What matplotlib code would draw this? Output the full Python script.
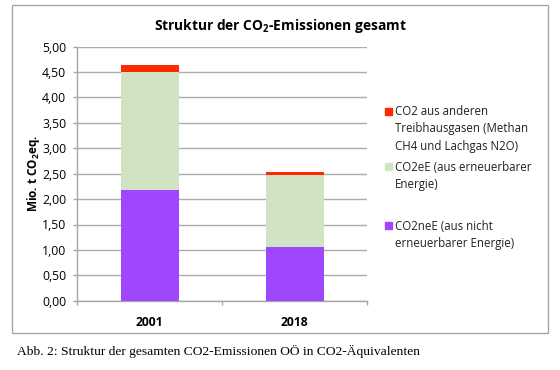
import matplotlib
matplotlib.use("Agg")
import matplotlib.pyplot as plt
from matplotlib.patches import Rectangle
from matplotlib.ticker import FuncFormatter

# ---- data ----
years = ["2001", "2018"]
co2nee = [2.17, 1.05]        # CO2neE (aus nicht erneuerbarer Energie)
co2ee = [2.33, 1.42]         # CO2eE (aus erneuerbarer Energie)
co2_other = [0.14, 0.065]    # CO2 aus anderen Treibhausgasen
series_labels = [
    "CO2neE (aus nicht\nerneuerbarer Energie)",
    "CO2eE (aus erneuerbarer\nEnergie)",
    "CO2 aus anderen\nTreibhausgasen (Methan\nCH4 und Lachgas N2O)",
]
colors = ["#9E47FF", "#D0E4C4", "#FF2A00"]
yticks = [0, 0.5, 1, 1.5, 2, 2.5, 3, 3.5, 4, 4.5, 5]

W, H = 560, 370
plt.rcParams["font.family"] = ["Open Sans", "DejaVu Sans"]
plt.rcParams["mathtext.fontset"] = "custom"
plt.rcParams["mathtext.rm"] = "Open Sans"
plt.rcParams["mathtext.bf"] = "Open Sans:bold"

fig = plt.figure(figsize=(W / 100, H / 100), dpi=100)

def fx(px):
    return px / W

def fy(py):
    return 1 - py / H

# outer chart border
fig.patches.append(Rectangle((fx(12.3), fy(333.3)), fx(548.3) - fx(12.3), fy(4.7) - fy(333.3),
                             transform=fig.transFigure, fill=False, edgecolor="#A6A6A6", lw=1.0))

ax = fig.add_axes([fx(77.3), fy(300.7), fx(367) - fx(77.3), fy(46.7) - fy(300.7)])

x = list(range(len(years)))
bottom2 = [a + b for a, b in zip(co2nee, co2ee)]
ax.bar(x, co2nee, width=0.4, color=colors[0], zorder=3)
ax.bar(x, co2ee, width=0.4, bottom=co2nee, color=colors[1], zorder=3)
ax.bar(x, co2_other, width=0.4, bottom=bottom2, color=colors[2], zorder=3)

ax.set_xlim(-0.5, 1.5)
ax.set_ylim(0, 5)
ax.set_yticks(yticks)
ax.yaxis.set_major_formatter(FuncFormatter(lambda v, p: f"{v:.2f}".replace(".", ",")))
ax.grid(axis="y", color="#ADADAD", lw=1.0, zorder=0)

ax.set_xticks(x)
ax.set_xticklabels(years, fontweight="bold", fontsize=8.7)
ax.set_xticks([-0.5, 0.5, 1.5], minor=True)
ax.tick_params(axis="x", which="major", length=0, pad=11)
ax.tick_params(axis="x", which="minor", length=3, color="#A6A6A6", width=1)
ax.tick_params(axis="y", length=3, color="#A6A6A6", width=1, labelsize=8.8, pad=5)

for s in ["top", "right"]:
    ax.spines[s].set_visible(False)
for s in ["left", "bottom"]:
    ax.spines[s].set_color("#A6A6A6")
    ax.spines[s].set_linewidth(1.0)

ax.set_ylabel(r"Mio. t CO$_\mathbf{2}$eq.", fontweight="bold", fontsize=8.5)
ax.yaxis.set_label_coords((33.3 - 77.3) / (367 - 77.3), 0.5)
ax.yaxis.label.set_verticalalignment("center")

fig.text(0.5, fy(25.7), r"Struktur der CO$_\mathbf{2}$-Emissionen gesamt",
         ha="center", va="center", fontsize=9.9, fontweight="bold")

# legend (drawn in reversed order, top = last series)
leg_items = [
    (2, 112.3, 128.6),
    (1, 167.3, 175.8),
    (0, 226.7, 235.0),
]
for idx, first_line_y, block_y in leg_items:
    fig.patches.append(Rectangle((fx(385), fy(first_line_y + 2.2)), fx(6.7), 6.7 / H,
                                 transform=fig.transFigure, color=colors[idx]))
    fig.text(fx(395), fy(block_y), series_labels[idx], ha="left", va="center",
             fontsize=8.3, linespacing=1.45, color="#222222")

fig.text(fx(16.7), fy(351.7), "Abb. 2: Struktur der gesamten CO2-Emissionen OÖ in CO2-Äquivalenten",
         ha="left", va="center", fontsize=9.7, family="Liberation Serif")

fig.savefig("out.png", dpi=100)
